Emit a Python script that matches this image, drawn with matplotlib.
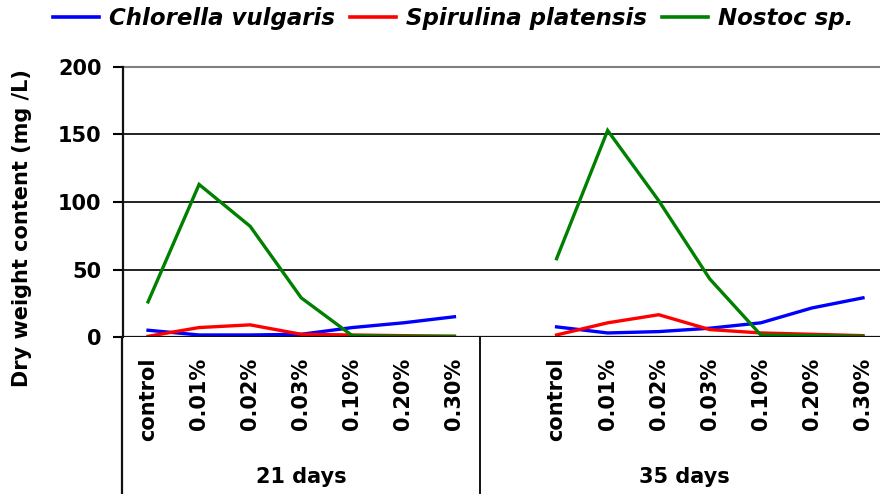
import matplotlib
matplotlib.use("Agg")
import matplotlib.pyplot as plt
from matplotlib.lines import Line2D

categories = ['control', '0.01%', '0.02%', '0.03%', '0.10%', '0.20%', '0.30%']
groups = ['21 days', '35 days']
series_names = ['Chlorella vulgaris', 'Spirulina platensis', 'Nostoc sp.']
chlorella_21 = [5, 1.5, 1.5, 2, 7, 10.5, 15]
chlorella_35 = [7.5, 3, 4, 6.5, 10.5, 21.5, 29]
spirulina_21 = [0.5, 7, 9, 2, 1.5, 1, 0.5]
spirulina_35 = [1.5, 10.5, 16.5, 5.5, 3, 2, 1]
nostoc_21 = [26, 113, 82, 29, 1, 0.5, 0.5]
nostoc_35 = [58, 153, 101, 43, 1.5, 1, 0.5]
colors = ['#0000FF', '#FF0000', '#008000']
y_ticks = [0, 50, 100, 150, 200]

plt.rcParams['font.family'] = ['DejaVu Sans']
plt.rcParams['font.weight'] = 'bold'

W, H = 880, 494
fig = plt.figure(figsize=(W / 100, H / 100), dpi=100)
left_px, right_px, top_px, bot_px = 122.5, 888.5, 67, 337
ax = fig.add_axes([left_px / W, 1 - bot_px / H, (right_px - left_px) / W, (bot_px - top_px) / H])

n = len(categories)
x21 = list(range(n))
x35 = [i + n + 1 for i in range(n)]
data = [(chlorella_21, chlorella_35), (spirulina_21, spirulina_35), (nostoc_21, nostoc_35)]
for (a, b), c in zip(data, colors):
    ax.plot(x21, a, color=c, lw=2.4, solid_joinstyle='miter', zorder=3)
    ax.plot(x35, b, color=c, lw=2.4, solid_joinstyle='miter', zorder=3)

ax.set_xlim(-0.5, 2 * n + 0.5)
ax.set_ylim(0, 200)
ax.set_yticks(y_ticks)
ax.set_yticklabels([str(v) for v in y_ticks], fontsize=15, fontweight='bold')
ax.tick_params(axis='y', length=7, width=1.5, pad=8, direction='out')

for v in y_ticks[1:-1]:
    ax.axhline(v, color='#111111', lw=1.3, zorder=1)
ax.axhline(200, color='#808080', lw=1.5, zorder=1, clip_on=False)
ax.axhline(0, color='#111111', lw=1.6, zorder=4)

for s in ['top', 'right', 'bottom']:
    ax.spines[s].set_visible(False)
ax.spines['left'].set_linewidth(1.6)
ax.spines['left'].set_color('#111111')

ax.set_xticks(x21 + x35)
ax.set_xticklabels(categories + categories, rotation=90, fontsize=15,
                   fontweight='bold', va='top', ha='center')
ax.tick_params(axis='x', length=0, pad=15)

trans = ax.get_xaxis_transform()
ext = -(H - bot_px) / (bot_px - top_px) - 0.05
ax.plot([-0.5, -0.5], [0, ext], color='#111111', lw=1.6, transform=trans, clip_on=False)
ax.plot([n - 0.5, n - 0.5], [0, ext], color='#111111', lw=1.4, transform=trans, clip_on=False)

gy = -(477 - bot_px) / (bot_px - top_px)
ax.text((x21[0] + x21[-1]) / 2, gy, groups[0], transform=trans, ha='center', va='center',
        fontsize=15, fontweight='bold')
ax.text(((n - 0.5) + (2 * n + 0.5)) / 2, gy, groups[1], transform=trans, ha='center', va='center',
        fontsize=15, fontweight='bold')

fig.text(22 / W, 1 - 228 / H, 'Dry weight content (mg /L)', rotation=90, ha='center',
         va='center', fontsize=15, fontweight='bold')

handles = [Line2D([], [], color=c, lw=2.6) for c in colors]
fig.legend(handles, series_names, loc='center left', bbox_to_anchor=(53 / W, 1 - 19 / H),
           bbox_transform=fig.transFigure, ncol=3, frameon=False, borderpad=0,
           borderaxespad=0, handlelength=2.0, handletextpad=0.45, columnspacing=0.65,
           prop={'size': 16.5, 'weight': 'bold', 'style': 'italic'})

fig.savefig('out.png', dpi=100)
